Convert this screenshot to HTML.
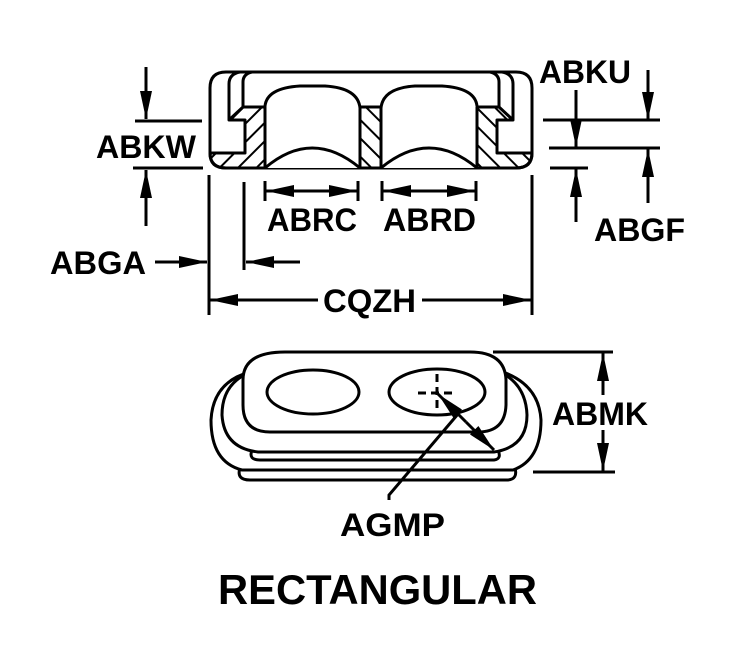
<!DOCTYPE html>
<html><head><meta charset="utf-8"><style>
html,body{margin:0;padding:0;background:#fff;}
svg{display:block;}
text{font-family:"Liberation Sans",Arial,sans-serif;font-weight:bold;fill:#000;}
</style></head><body>
<svg width="743" height="647" viewBox="0 0 743 647" xmlns="http://www.w3.org/2000/svg">
<defs>
<pattern id="hb" patternUnits="userSpaceOnUse" width="13" height="13" patternTransform="rotate(45)">
<line x1="0" y1="0" x2="0" y2="13" stroke="#000" stroke-width="4"/></pattern>
<pattern id="hf" patternUnits="userSpaceOnUse" width="13" height="13" patternTransform="rotate(-45)">
<line x1="0" y1="0" x2="0" y2="13" stroke="#000" stroke-width="4"/></pattern>
<marker id="ah" viewBox="0 0 28 12" refX="28" refY="6" markerWidth="28" markerHeight="12" markerUnits="userSpaceOnUse" orient="auto"><path d="M0,0 L28,6 L0,12 Z" fill="#000"/></marker>
</defs>
<g fill="none" stroke="#000" stroke-width="3" stroke-linejoin="round">
<path d="M210,88 Q210,72 226,72 L516,72 Q532,72 532,88 L532,153 Q532,168 516,168 L226,168 Q210,168 210,153 Z"/>
<path d="M210,153 L245,153 L245,120 L229,120 L243,107 L265,107 L265,168 L226,168 Q210,168 210,153 Z" fill="url(#hb)"/>
<path d="M229,120 L229,84 Q229,74 240,72"/>
<path d="M243,107 L243,82 Q243,74 252,72"/>
<path d="M532,153 L497,153 L497,120 L513,120 L499,107 L477,107 L477,168 L516,168 Q532,168 532,153 Z" fill="url(#hf)"/>
<path d="M513,120 L513,84 Q513,74 502,72"/>
<path d="M499,107 L499,82 Q499,74 490,72"/>
<rect x="360" y="107" width="21" height="61" fill="url(#hf)"/>
<path d="M265,168 L265,106 Q267,88 300,86 L325,86 Q358,88 360,108"/>
<path d="M265,168 Q312,128 360,168" fill="#fff"/>
<path d="M381,168 L381,108 Q383,88 415,86 L442,86 Q475,88 477,106"/>
<path d="M381,168 Q429,128 477,168" fill="#fff"/>
</g>
<g stroke="#000" stroke-width="3" fill="none">
<line x1="146" y1="67" x2="146" y2="119" marker-end="url(#ah)"/>
<line x1="135" y1="121" x2="202" y2="121"/>
<line x1="133" y1="168" x2="203" y2="168"/>
<line x1="146" y1="226" x2="146" y2="170" marker-end="url(#ah)"/>
<line x1="155" y1="262" x2="207" y2="262" marker-end="url(#ah)"/>
<line x1="209" y1="175" x2="209" y2="315"/>
<line x1="244" y1="182" x2="244" y2="270"/>
<line x1="300" y1="262" x2="246" y2="262" marker-end="url(#ah)"/>
<line x1="265" y1="181" x2="265" y2="201"/><line x1="358" y1="181" x2="358" y2="201"/>
<line x1="311" y1="191" x2="266" y2="191" marker-end="url(#ah)"/><line x1="311" y1="191" x2="357" y2="191" marker-end="url(#ah)"/>
<line x1="382" y1="181" x2="382" y2="201"/><line x1="476" y1="181" x2="476" y2="201"/>
<line x1="429" y1="191" x2="383" y2="191" marker-end="url(#ah)"/><line x1="429" y1="191" x2="475" y2="191" marker-end="url(#ah)"/>
<line x1="532" y1="175" x2="532" y2="315"/>
<line x1="318" y1="300" x2="210" y2="300" marker-end="url(#ah)"/>
<line x1="422" y1="300" x2="531" y2="300" marker-end="url(#ah)"/>
<line x1="543" y1="120" x2="660" y2="120"/>
<line x1="549" y1="148" x2="660" y2="148"/>
<line x1="550" y1="168" x2="588" y2="168"/>
<line x1="576" y1="90" x2="576" y2="147" marker-end="url(#ah)"/>
<line x1="576" y1="222" x2="576" y2="169" marker-end="url(#ah)"/>
<line x1="648" y1="70" x2="648" y2="120" marker-end="url(#ah)"/>
<line x1="648" y1="203" x2="648" y2="149" marker-end="url(#ah)"/>
</g>
<g fill="#fff" stroke="#000" stroke-width="3" stroke-linejoin="round">
<path d="M240,468 Q236,480 250,480 L508,480 Q518,479 515,468 Z"/>
<path d="M250,372 Q213,382 211,420 Q211,462 242,470 L513,470 Q541,460 541,420 Q539,385 503,372 Z"/>
<path d="M252,450 Q248,460 260,460 L494,460 Q502,459 498,450 Z"/>
<path d="M246,374 Q222,386 222,415 Q224,448 258,452 L494,452 Q527,447 527,415 Q526,387 504,374 Z"/>
<path d="M243,380 Q243,352 285,352 L470,352 Q505,352 506,380 L506,405 Q505,432 478,432 L270,432 Q243,432 243,405 Z"/>
<ellipse cx="313" cy="392" rx="46" ry="22"/>
<ellipse cx="437" cy="392" rx="48" ry="23"/>
</g>
<g fill="none" stroke="#000" stroke-width="3">
<line x1="418" y1="393" x2="456" y2="393" stroke-dasharray="8,5"/>
<line x1="437" y1="374" x2="437" y2="412" stroke-dasharray="8,5"/>
<line x1="466" y1="422" x2="438" y2="394" marker-end="url(#ah)"/>
<line x1="466" y1="422" x2="494" y2="450" marker-end="url(#ah)"/>
<path d="M389,500 L389,495 L458,414"/>
<line x1="493" y1="352" x2="613" y2="352"/>
<line x1="533" y1="472" x2="615" y2="472"/>
<line x1="603" y1="395" x2="603" y2="353" marker-end="url(#ah)"/>
<line x1="603" y1="430" x2="603" y2="471" marker-end="url(#ah)"/>
</g>
<g font-size="32">
<text x="96" y="158" textLength="100" lengthAdjust="spacingAndGlyphs">ABKW</text>
<text x="50" y="274" textLength="96" lengthAdjust="spacingAndGlyphs">ABGA</text>
<text x="267" y="231" textLength="90" lengthAdjust="spacingAndGlyphs">ABRC</text>
<text x="383" y="231" textLength="93" lengthAdjust="spacingAndGlyphs">ABRD</text>
<text x="323" y="312" textLength="93" lengthAdjust="spacingAndGlyphs">CQZH</text>
<text x="539" y="83" textLength="92" lengthAdjust="spacingAndGlyphs">ABKU</text>
<text x="594" y="241" textLength="91" lengthAdjust="spacingAndGlyphs">ABGF</text>
<text x="552" y="425" textLength="96" lengthAdjust="spacingAndGlyphs">ABMK</text>
<text x="340" y="536" textLength="105" lengthAdjust="spacingAndGlyphs">AGMP</text>
</g>
<text x="218" y="604" font-size="42" textLength="319" lengthAdjust="spacingAndGlyphs">RECTANGULAR</text>
</svg>
</body></html>
